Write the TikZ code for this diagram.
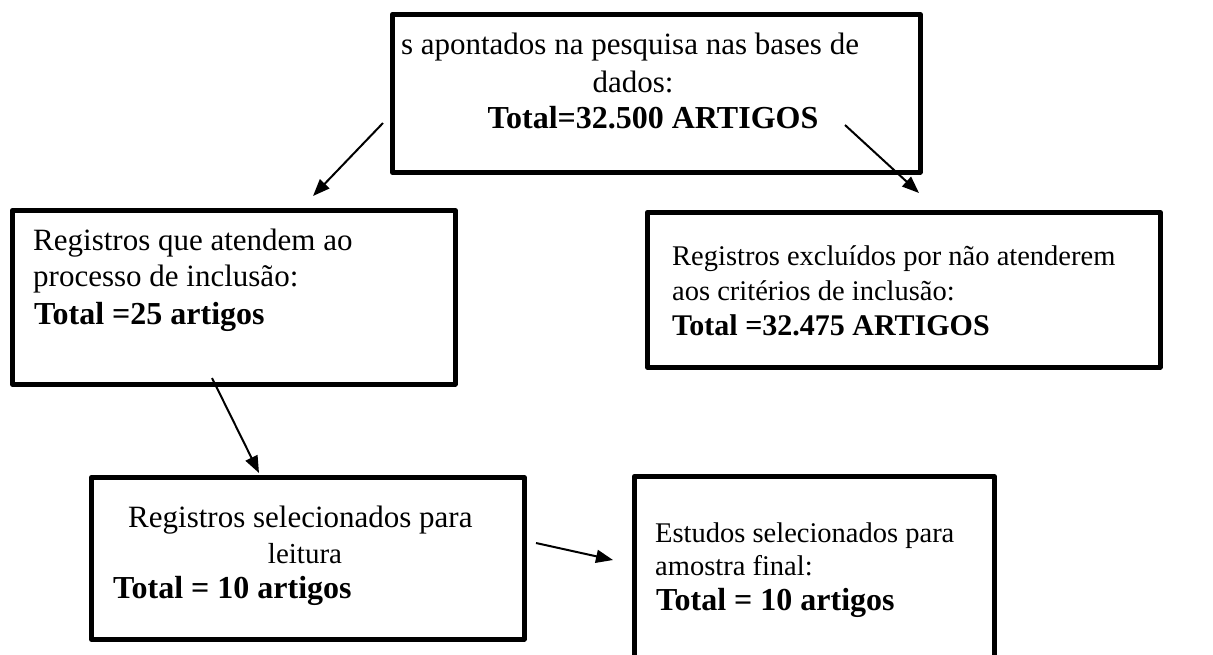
\documentclass[tikz,border=0pt]{standalone}
\usepackage{fontspec}
\setmainfont{Liberation Serif}
\usetikzlibrary{arrows.meta}
\begin{document}
\begin{tikzpicture}[x=1pt,y=-1pt,
  box/.style={draw=black, line width=4.5pt, line join=round, rectangle, inner sep=0pt, anchor=north west},
  txt/.style={inner sep=0pt, anchor=base west, font=\fontsize{31}{36}\selectfont},
  txtc/.style={inner sep=0pt, anchor=base, font=\fontsize{31}{36}\selectfont},
  txts/.style={inner sep=0pt, anchor=base west, font=\fontsize{28.5}{34}\selectfont},
  bld/.style={inner sep=0pt, font=\fontsize{32}{36}\selectfont\bfseries},
  arr/.style={draw=black, line width=2pt, -{Triangle[length=17pt,width=13pt]}}]
\useasboundingbox (0,0) rectangle (1213,654);
\clip (0,0) rectangle (1213,654);
% boxes
\node[box, minimum width=528pt, minimum height=158pt] (topbox) at (390,12) {};
\node[box, minimum width=443pt, minimum height=174pt] (leftbox) at (10,208) {};
\node[box, minimum width=513pt, minimum height=155pt] (rightbox) at (645,210) {};
\node[box, minimum width=433pt, minimum height=162pt] (readbox) at (89,475) {};
\node[box, minimum width=360pt, minimum height=200pt] (finalbox) at (632,474) {};
% texts
\node[txtc] (t1) at (630,54) {s apontados na pesquisa nas bases de};
\node[txtc] (t2) at (633,92) {dados:};
\node[bld, anchor=base] (t3) at (653,128) {Total=32.500 ARTIGOS};
\node[txt] (l1) at (33,250) {Registros que atendem ao};
\node[txt] (l2) at (33,286) {processo de inclusão:};
\node[bld, anchor=base west] (l3) at (34,324) {Total =25 artigos};
\node[txts] (r1) at (672,265) {Registros excluídos por não atenderem};
\node[txts] (r2) at (672,300) {aos critérios de inclusão:};
\node[txts, font=\fontsize{30}{34}\selectfont\bfseries] (r3) at (672,335) {Total =32.475 ARTIGOS};
\node[txt] (b1) at (128,527) {Registros selecionados para};
\node[txtc, font=\fontsize{29}{32}\selectfont] (b2) at (305,563) {leitura};
\node[bld, anchor=base west] (b3) at (113,598) {Total = 10 artigos};
\node[txt, font=\fontsize{28.5}{32}\selectfont] (f1) at (655,542) {Estudos selecionados para};
\node[txt, font=\fontsize{28.5}{32}\selectfont] (f2) at (655,575) {amostra final:};
\node[bld, anchor=base west] (f3) at (656,610) {Total = 10 artigos};
% arrow ends
\coordinate (a1s) at (383,123);
\coordinate (a1e) at (313,196);
\coordinate (a2s) at (845,125);
\coordinate (a2e) at (919,193);
\coordinate (a3s) at (212,378);
\coordinate (a3e) at (259,473);
\coordinate (a4s) at (536,543);
\coordinate (a4e) at (613,560);
\draw[arr] (a1s) -- (a1e);
\draw[arr] (a2s) -- (a2e);
\draw[arr] (a3s) -- (a3e);
\draw[arr] (a4s) -- (a4e);
\end{tikzpicture}
\end{document}
